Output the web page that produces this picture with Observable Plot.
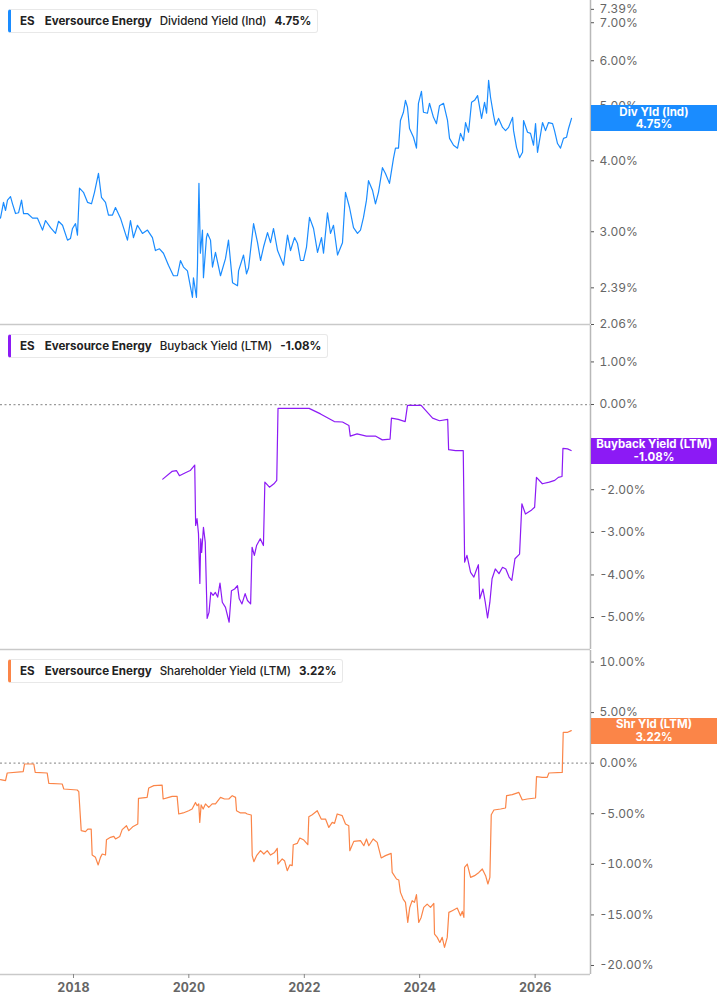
<!DOCTYPE html>
<html><head><meta charset="utf-8">
<script src="https://cdn.jsdelivr.net/npm/d3@7"></script>
<script src="https://cdn.jsdelivr.net/npm/@observablehq/plot@0.6"></script>
<style>
body{margin:0;background:#fff;font-family:Inter,"Noto Sans",sans-serif;}
#root{position:relative;width:717px;}
.panel{position:relative;width:717px;}
.panel svg{display:block;overflow:visible;background:transparent;}
.hdr{position:absolute;left:8px;top:9px;height:24px;box-sizing:border-box;border:1px solid #e8e8e8;border-left:3px solid;border-radius:3px;background:#fff;display:flex;align-items:center;padding:0 6px 0 9px;font-size:11.6px;color:#222;white-space:nowrap;}
.hdr span{margin-right:8px;}
.hdr .tk{font-weight:700;margin-right:10px;}
.hdr .nm{font-weight:700;}
.hdr .ms{font-weight:500;letter-spacing:-0.1px;}
.hdr .vl{font-weight:700;margin-right:0;}
.badge{position:absolute;left:591px;width:126px;height:26px;color:#fff;font-weight:700;font-size:11.5px;line-height:12.5px;text-align:center;display:flex;flex-direction:column;justify-content:center;}
</style></head>
<body><div id="root"></div>
<script>
// ---------- data ----------
const ticker = "ES";
const company = "Eversource Energy";

const divDates = [2016.735,2016.787,2016.822,2016.856,2016.908,2016.943,2016.995,2017.047,2017.099,2017.134,2017.203,2017.290,2017.376,2017.463,2017.515,2017.602,2017.688,2017.740,2017.810,2017.896,2017.948,2017.983,2018.035,2018.069,2018.104,2018.173,2018.243,2018.312,2018.364,2018.433,2018.485,2018.555,2018.607,2018.676,2018.728,2018.815,2018.936,2018.988,2019.040,2019.109,2019.196,2019.283,2019.369,2019.421,2019.491,2019.560,2019.647,2019.733,2019.802,2019.855,2019.907,2019.976,2020.063,2020.080,2020.132,2020.149,2020.175,2020.200,2020.236,2020.253,2020.305,2020.323,2020.375,2020.409,2020.461,2020.548,2020.634,2020.686,2020.756,2020.842,2020.860,2020.946,2020.998,2021.033,2021.120,2021.189,2021.241,2021.293,2021.362,2021.414,2021.466,2021.536,2021.640,2021.709,2021.761,2021.830,2021.882,2021.934,2021.986,2022.038,2022.090,2022.160,2022.229,2022.298,2022.333,2022.402,2022.454,2022.506,2022.576,2022.662,2022.714,2022.784,2022.853,2022.922,2022.974,2023.026,2023.078,2023.113,2023.182,2023.234,2023.286,2023.355,2023.407,2023.477,2023.546,2023.581,2023.633,2023.667,2023.719,2023.754,2023.789,2023.824,2023.893,2023.945,2023.979,2024.031,2024.066,2024.135,2024.170,2024.239,2024.291,2024.343,2024.413,2024.482,2024.517,2024.586,2024.655,2024.707,2024.759,2024.794,2024.846,2024.898,2024.950,2025.002,2025.071,2025.123,2025.158,2025.193,2025.227,2025.279,2025.314,2025.366,2025.435,2025.487,2025.539,2025.609,2025.626,2025.678,2025.730,2025.782,2025.799,2025.868,2025.920,2025.972,2026.007,2026.041,2026.128,2026.180,2026.232,2026.302,2026.336,2026.388,2026.440,2026.492,2026.544,2026.579,2026.631];
const divValues = [3.17,3.38,3.27,3.41,3.46,3.36,3.23,3.24,3.41,3.23,3.23,3.17,3.17,3.02,3.14,3.05,2.98,3.13,3.08,2.90,2.92,3.04,3.10,2.96,3.58,3.52,3.38,3.36,3.52,3.80,3.45,3.38,3.21,3.21,3.31,3.17,2.90,3.14,2.93,3.08,2.98,3.02,2.93,2.78,2.80,2.75,2.62,2.51,2.51,2.67,2.60,2.56,2.30,2.49,2.30,2.60,3.65,2.75,3.02,2.49,2.93,2.98,2.90,2.60,2.76,2.51,2.69,2.90,2.44,2.41,2.56,2.73,2.53,2.59,3.10,2.87,2.67,2.82,2.99,2.87,3.04,2.78,2.62,2.96,2.78,2.93,2.86,2.67,2.67,2.82,3.18,3.04,2.76,2.93,2.75,3.24,2.98,3.08,2.73,2.87,3.52,3.31,3.05,2.98,3.02,3.18,3.41,3.69,3.55,3.36,3.52,3.89,3.80,3.65,4.04,4.21,4.21,4.71,4.87,5.11,4.97,4.56,4.40,4.21,5.05,5.30,4.87,4.85,5.05,4.77,4.65,5.00,5.05,4.71,4.38,4.26,4.21,4.47,4.34,4.67,4.49,5.07,5.11,5.21,4.75,5.07,4.85,5.54,5.17,4.81,4.62,4.75,4.58,4.52,4.58,4.77,4.52,4.22,4.05,4.14,4.71,4.49,4.47,4.26,4.65,4.14,4.67,4.52,4.67,4.65,4.52,4.29,4.21,4.38,4.40,4.56,4.75];

const bbDates = [2019.548,2019.707,2019.785,2019.837,2019.941,2020.024,2020.102,2020.118,2020.142,2020.167,2020.191,2020.206,2020.222,2020.253,2020.284,2020.317,2020.349,2020.380,2020.420,2020.459,2020.499,2020.539,2020.579,2020.634,2020.697,2020.737,2020.792,2020.841,2020.872,2020.919,2020.974,2021.014,2021.069,2021.094,2021.134,2021.172,2021.236,2021.291,2021.316,2021.395,2021.473,2021.522,2021.544,2021.806,2022.083,2022.281,2022.520,2022.662,2022.773,2022.797,2022.915,2023.075,2023.232,2023.352,2023.487,2023.511,2023.629,2023.749,2023.789,2024.026,2024.224,2024.343,2024.485,2024.501,2024.621,2024.754,2024.778,2024.818,2024.881,2024.938,2024.976,2025.016,2025.040,2025.095,2025.135,2025.175,2025.215,2025.253,2025.309,2025.373,2025.435,2025.492,2025.548,2025.595,2025.650,2025.730,2025.770,2025.832,2025.927,2025.991,2026.023,2026.125,2026.245,2026.340,2026.402,2026.466,2026.482,2026.562,2026.624];
const bbValues = [-1.75,-1.57,-1.55,-1.67,-1.60,-1.55,-1.42,-2.84,-2.68,-3.03,-4.20,-3.15,-3.47,-2.88,-3.23,-5.02,-4.88,-4.41,-4.48,-4.41,-4.52,-4.19,-4.64,-4.76,-5.11,-4.37,-4.33,-4.25,-4.56,-4.68,-4.44,-4.60,-4.68,-3.35,-3.54,-3.31,-3.15,-3.31,-1.82,-1.94,-1.86,-1.78,-0.09,-0.09,-0.09,-0.22,-0.40,-0.41,-0.49,-0.74,-0.69,-0.74,-0.74,-0.83,-0.81,-0.32,-0.35,-0.40,-0.02,-0.02,-0.32,-0.38,-0.35,-1.06,-1.08,-1.08,-3.70,-3.54,-3.94,-4.05,-3.90,-3.76,-4.56,-4.33,-4.64,-5.01,-4.64,-4.09,-3.86,-3.97,-3.82,-3.86,-4.05,-4.13,-3.62,-3.51,-2.33,-2.57,-2.49,-2.41,-1.71,-1.86,-1.82,-1.78,-1.71,-1.69,-1.03,-1.04,-1.08];

const shDates = [2016.735,2016.822,2016.851,2017.128,2017.151,2017.312,2017.336,2017.544,2017.572,2017.804,2017.832,2018.064,2018.092,2018.134,2018.208,2018.248,2018.307,2018.324,2018.381,2018.428,2018.468,2018.498,2018.555,2018.572,2018.641,2018.699,2018.728,2018.803,2018.844,2018.919,2018.959,2019.035,2019.115,2019.127,2019.277,2019.305,2019.392,2019.537,2019.555,2019.652,2019.711,2019.797,2019.825,2019.901,2019.998,2020.057,2020.115,2020.144,2020.172,2020.189,2020.213,2020.248,2020.288,2020.345,2020.404,2020.461,2020.548,2020.617,2020.692,2020.751,2020.808,2020.825,2020.894,2020.981,2021.011,2021.080,2021.097,2021.125,2021.172,2021.241,2021.298,2021.357,2021.414,2021.484,2021.531,2021.541,2021.617,2021.657,2021.704,2021.749,2021.790,2021.808,2021.877,2021.922,2021.992,2022.061,2022.078,2022.137,2022.224,2022.293,2022.368,2022.425,2022.484,2022.524,2022.570,2022.657,2022.714,2022.771,2022.789,2022.858,2022.974,2023.032,2023.078,2023.118,2023.194,2023.264,2023.333,2023.407,2023.506,2023.524,2023.598,2023.638,2023.667,2023.714,2023.754,2023.794,2023.828,2023.870,2023.910,2023.945,2023.984,2024.026,2024.071,2024.130,2024.188,2024.245,2024.257,2024.304,2024.349,2024.390,2024.430,2024.477,2024.505,2024.564,2024.650,2024.707,2024.737,2024.765,2024.777,2024.824,2024.881,2024.950,2025.025,2025.084,2025.141,2025.181,2025.215,2025.239,2025.285,2025.401,2025.487,2025.505,2025.603,2025.718,2025.777,2025.863,2026.007,2026.024,2026.123,2026.210,2026.238,2026.470,2026.487,2026.556,2026.626];
const shValues = [-1.63,-1.73,-0.97,-0.84,-0.08,-0.08,-0.91,-0.97,-2.00,-2.06,-2.55,-2.65,-2.82,-6.67,-6.77,-6.51,-6.51,-9.08,-9.31,-10.06,-9.31,-8.98,-9.08,-7.56,-7.33,-7.24,-7.49,-7.24,-6.57,-6.18,-6.67,-6.25,-6.01,-3.48,-3.38,-2.45,-2.22,-2.16,-3.54,-3.38,-3.28,-3.28,-5.02,-4.92,-4.70,-4.53,-3.88,-4.20,-4.03,-5.85,-4.13,-4.53,-4.03,-4.37,-4.03,-4.03,-3.38,-3.54,-3.54,-3.21,-3.38,-4.70,-4.92,-4.92,-5.02,-5.12,-9.14,-9.74,-9.14,-8.65,-8.98,-8.65,-9.08,-8.82,-8.42,-9.97,-9.47,-9.64,-10.63,-10.06,-10.13,-8.06,-7.93,-7.40,-7.60,-8.06,-5.29,-5.09,-4.70,-5.52,-5.52,-6.35,-5.85,-5.95,-5.02,-5.19,-6.01,-6.18,-8.65,-7.73,-7.66,-8.16,-7.49,-8.16,-7.49,-7.83,-9.37,-9.14,-8.92,-10.80,-11.45,-11.55,-12.77,-13.43,-13.76,-15.74,-14.26,-13.59,-13.76,-13.00,-15.74,-15.25,-14.26,-13.93,-14.26,-13.86,-16.89,-17.22,-17.72,-17.22,-18.21,-17.22,-14.75,-14.58,-14.32,-15.08,-14.65,-15.25,-10.30,-9.97,-11.29,-11.12,-10.80,-10.46,-11.12,-11.94,-11.29,-5.09,-4.63,-4.53,-4.43,-3.21,-3.11,-2.89,-3.64,-3.54,-3.44,-1.33,-1.40,-1.40,-0.97,-0.91,3.04,3.04,3.22];

const xExtent = [2016.735, 2026.96];
const xTickYears = [2018, 2020, 2022, 2024, 2026];
const divTicks = [2.06, 2.39, 3, 4, 5, 6, 7, 7.39];
const divDomain = [2.06, 7.66];
const bbTicks = [1, 0, -2, -3, -4, -5];
const bbDomain = [-5.75, 1.855];
const shTicks = [10, 5, 0, -5, -10, -15, -20];
const shDomain = [-20.89, 11.14];

// ---------- helpers ----------
const toDate = t => { const y = Math.floor(t); const s = Date.UTC(y,0,1), e = Date.UTC(y+1,0,1); return new Date(s + (t-y)*(e-s)); };
const xDomain = xExtent.map(toDate);
const pct = d => d.toFixed(2) + "%";
const root = document.getElementById("root");

function panel(cfg) {
  const data = cfg.dates.map((d,i) => ({date: toDate(d), value: cfg.values[i]}));
  const last = cfg.values[cfg.values.length-1];
  const marks = [
    Plot.ruleY([cfg.domain[0]], {stroke:"#c9c9c9", strokeWidth:1.5}),
    cfg.zero ? Plot.ruleY([0], {stroke:"#9a9a9a", strokeWidth:1.2, strokeDasharray:"2,2.5"}) : null,
    Plot.ruleX([xDomain[1]], {stroke:"#b8b8b8", strokeWidth:1.5}),
    Plot.axisY(cfg.ticks, {anchor:"right", label:null, tickSize:3, tickPadding:6, tickFormat:pct, stroke:"#555", fill:"#666", fontSize:12}),
    Plot.line(data, {x:"date", y:"value", stroke:cfg.color, strokeWidth:1.2}),
    cfg.xAxis ? Plot.axisX(xTickYears.map(toDate), {anchor:"bottom", label:null, tickSize:4, tickPadding:5, tickFormat:"%Y", stroke:"#888", fill:"#666", fontSize:12.5, fontWeight:700}) : null
  ];
  const chart = Plot.plot({
    width:717, height:cfg.height, marginLeft:0, marginRight:127, marginTop:0, marginBottom:cfg.height-324,
    x: cfg.xAxis ? {type:"utc", domain:xDomain} : {type:"utc", domain:xDomain, axis:null},
    y:{type:cfg.type, domain:cfg.domain, axis:null},
    style:{fontFamily:"Inter, 'Noto Sans', sans-serif", background:"transparent", overflow:"visible"},
    marks
  });
  const wrap = document.createElement("div");
  wrap.className = "panel";
  wrap.appendChild(chart);
  const hdr = document.createElement("div");
  hdr.className = "hdr";
  hdr.style.borderLeftColor = cfg.color;
  hdr.innerHTML = `<span class="tk">${ticker}</span><span class="nm">${company}</span><span class="ms">${cfg.metric}</span><span class="vl">${pct(last)}</span>`;
  wrap.appendChild(hdr);
  const badge = document.createElement("div");
  badge.className = "badge";
  badge.style.background = cfg.color;
  badge.style.top = (chart.scale("y").apply(last) - 12.5) + "px";
  badge.innerHTML = `<div>${cfg.short}</div><div>${pct(last)}</div>`;
  wrap.appendChild(badge);
  root.appendChild(wrap);
}

panel({dates:divDates, values:divValues, color:"#1a8cff", type:"log", domain:divDomain, ticks:divTicks, height:325, metric:"Dividend Yield (Ind)", short:"Div Yld (Ind)"});
panel({dates:bbDates, values:bbValues, color:"#8c1af5", type:"linear", domain:bbDomain, ticks:bbTicks, height:325, zero:true, metric:"Buyback Yield (LTM)", short:"Buyback Yield (LTM)"});
panel({dates:shDates, values:shValues, color:"#fb8548", type:"linear", domain:shDomain, ticks:shTicks, height:355, zero:true, xAxis:true, metric:"Shareholder Yield (LTM)", short:"Shr Yld (LTM)"});
</script></body></html>
